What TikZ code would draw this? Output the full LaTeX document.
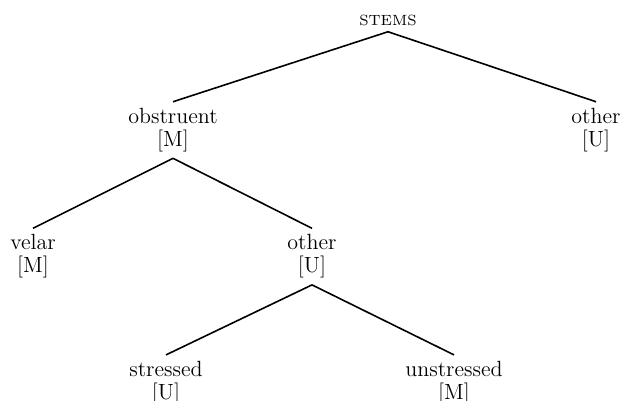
\documentclass[tikz,border=0pt]{standalone}
\usepackage{tikz}
\usetikzlibrary{positioning}

\begin{document}
\begin{tikzpicture}[
  node distance = 35pt,
  every node/.style = {font=\fontsize{11}{11.5}\selectfont},
  cat/.style = {align=center, inner xsep=0pt, inner ysep=3pt},
  root/.style = {cat, font=\fontsize{7.4}{9}\selectfont},
  branch/.style = {thick}
]
\useasboundingbox (0,0) rectangle (311pt,-200.5pt);

\node[root] at (194pt,-10pt)                        (stems)      {STEMS};
\node[cat, below=of stems, xshift=-107.5pt]         (obs)        {obstruent\\{[M]}};
\node[cat, below=of stems, xshift=104pt]            (other)      {other\\{[U]}};
\node[cat, below=of obs,   xshift=-70pt]            (velar)      {velar\\{[M]}};
\node[cat, below=of obs,   xshift=69.5pt]           (obsother)   {other\\{[U]}};
\node[cat, below=of obsother, xshift=-73pt]         (stressed)   {stressed\\{[U]}};
\node[cat, below=of obsother, xshift=71pt]          (unstressed) {unstressed\\{[M]}};

\draw[branch] (stems.south)    -- (obs.north);
\draw[branch] (stems.south)    -- (other.north);
\draw[branch] (obs.south)      -- (velar.north);
\draw[branch] (obs.south)      -- (obsother.north);
\draw[branch] (obsother.south) -- (stressed.north);
\draw[branch] (obsother.south) -- (unstressed.north);
\end{tikzpicture}
\end{document}
